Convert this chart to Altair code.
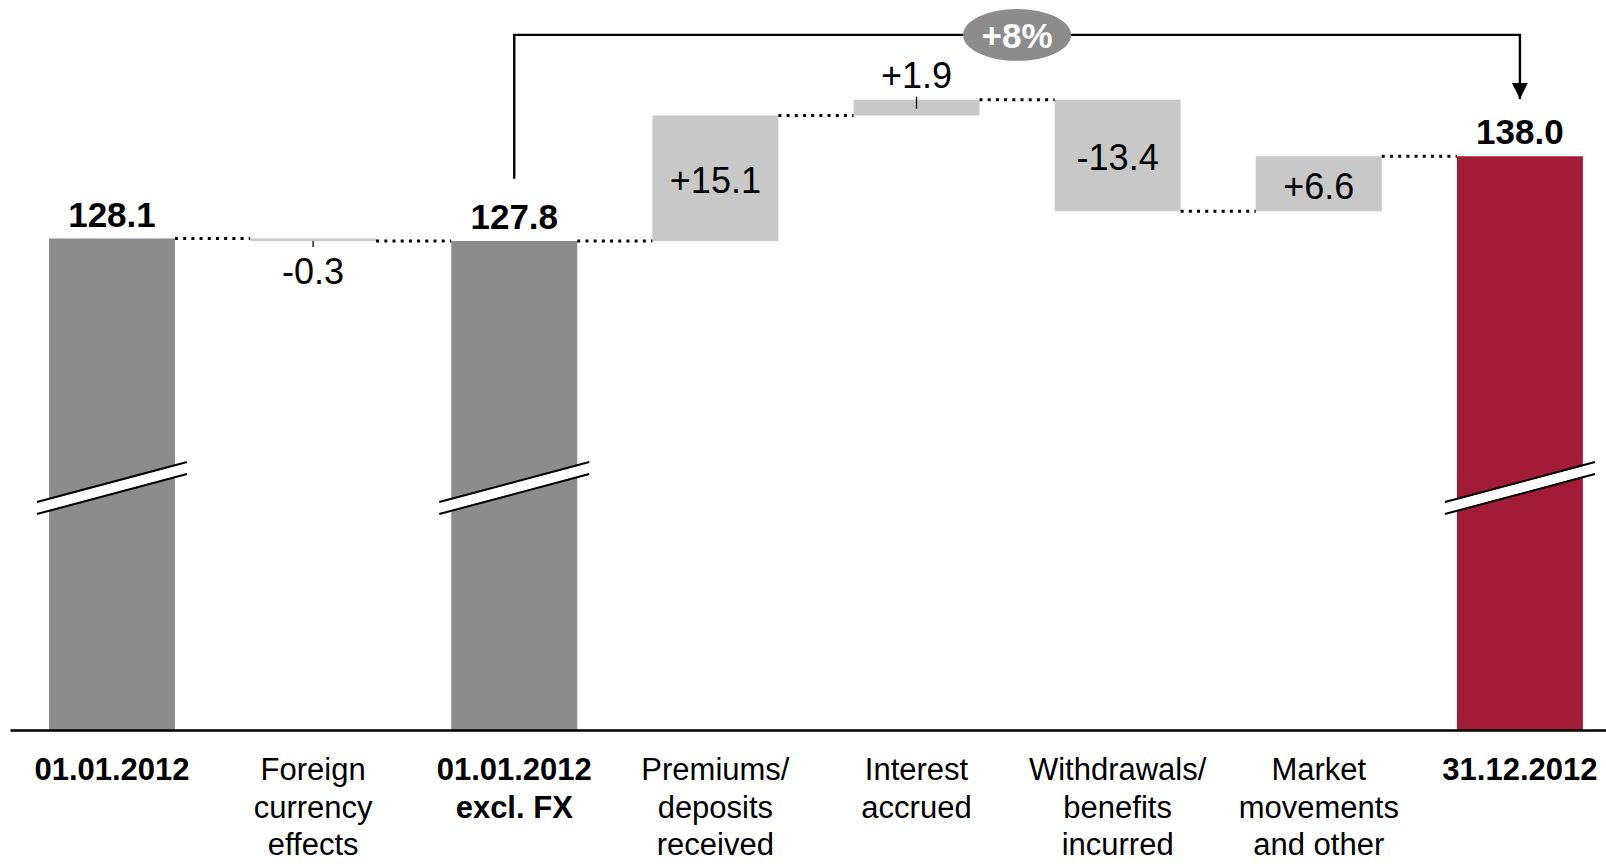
import altair as alt
import pandas as pd

# ---- data -------------------------------------------------------------
step_labels = [
    "01.01.2012",
    "Foreign\ncurrency\neffects",
    "01.01.2012\nexcl. FX",
    "Premiums/\ndeposits\nreceived",
    "Interest\naccrued",
    "Withdrawals/\nbenefits\nincurred",
    "Market\nmovements\nand other",
    "31.12.2012",
]
step_kinds = ["start", "delta", "start", "delta", "delta", "delta", "delta", "end"]
step_values = [128.1, -0.3, 127.8, 15.1, 1.9, -13.4, 6.6, 138.0]
label_places = ["above", "below", "above", "inside", "above", "inside", "inside", "above"]

# ---- layout constants (scale extents, bar geometry) -------------------
Y_MIN, Y_MAX = 69.0, 156.8          # value axis is cut: bars start at Y_MIN
X_LO, X_HI = -0.507, 7.428          # index axis extents
HALF_BAR = 0.3132                   # half bar width in index units
BREAK_LEVEL = 98.1                  # where the axis-break marks sit
BREAK_HALF = 0.373
BRACKET_LEVEL = 152.6               # height of the growth bracket
BRACKET_GAP_START = 7.5
BRACKET_GAP_END = 6.9

FONT = "Liberation Sans"
DARK, LIGHT, RED = "#8c8c8c", "#c8c8c8", "#a21c37"

# ---- waterfall geometry -----------------------------------------------
rows = []
running = None
for i, (lab, kind, val, place) in enumerate(zip(step_labels, step_kinds, step_values, label_places)):
    if kind == "delta":
        start = running
        end = round(start + val, 1)
        lo, hi = min(start, end), max(start, end)
        text = f"{val:+.1f}"
        running = end
    else:
        lo, hi = Y_MIN, val
        text = f"{val:.1f}"
        running = val
    rows.append(dict(i=i, label=lab, kind=kind, value=val, place=place,
                     lo=lo, hi=hi, mid=(lo + hi) / 2, level=running, text=text,
                     x0=i - HALF_BAR, x1=i + HALF_BAR,
                     total=kind != "delta"))
steps = pd.DataFrame(rows)

connectors = pd.DataFrame([
    dict(cx0=r.i + HALF_BAR, cx1=r.i + 1 - HALF_BAR, level=r.level)
    for r in steps.itertuples() if r.i < len(steps) - 1
])

breaks = steps[steps["total"]].assign(
    bx0=lambda d: d["i"] - BREAK_HALF, bx1=lambda d: d["i"] + BREAK_HALF, blev=BREAK_LEVEL
)

first_excl = step_values[2]
final = step_values[-1]
growth = f"{final / first_excl - 1:+.0%}"
bracket = pd.DataFrame({
    "bx": [2, 2, 7, 7],
    "by": [first_excl + BRACKET_GAP_START, BRACKET_LEVEL, BRACKET_LEVEL, final + BRACKET_GAP_END],
    "order": [0, 1, 2, 3],
})
arrow_tip = bracket.iloc[[3]]
badge = pd.DataFrame({"bx": [(2 + 7) / 2], "by": [BRACKET_LEVEL], "text": [growth]})

# ---- shared encodings ---------------------------------------------------
x_scale = alt.Scale(domain=[X_LO, X_HI], nice=False, zero=False)
y_scale = alt.Scale(domain=[Y_MIN, Y_MAX], nice=False, zero=False)
x_axis = alt.Axis(domain=True, domainColor="black", domainWidth=2.5, ticks=False,
                  labels=False, grid=False, title=None, zindex=1)


def X(field):
    return alt.X(f"{field}:Q", scale=x_scale, axis=x_axis)


def Y(field):
    return alt.Y(f"{field}:Q", scale=y_scale, axis=None)


base = alt.Chart(steps)

bars = base.mark_rect().encode(
    x=X("x0"), x2="x1", y=Y("lo"), y2="hi",
    color=alt.Color("kind:N", legend=None,
                    scale=alt.Scale(domain=["start", "delta", "end"], range=[DARK, LIGHT, RED])),
)

dotted = alt.Chart(connectors).mark_rule(
    color="black", strokeWidth=3, strokeDash=[3, 5.2]
).encode(x=X("cx0"), x2="cx1", y=Y("level"))

# axis-break marks across the total bars
break_gap = alt.Chart(breaks).mark_rule(color="white", strokeWidth=10, yOffset=20, y2Offset=-20).encode(
    x=X("bx0"), x2="bx1", y=Y("blev"), y2="blev")
break_upper = alt.Chart(breaks).mark_rule(color="black", strokeWidth=2, yOffset=14, y2Offset=-26).encode(
    x=X("bx0"), x2="bx1", y=Y("blev"), y2="blev")
break_lower = alt.Chart(breaks).mark_rule(color="black", strokeWidth=2, yOffset=26, y2Offset=-14).encode(
    x=X("bx0"), x2="bx1", y=Y("blev"), y2="blev")

# small leader ticks for labels placed outside thin delta bars
lead_above = base.transform_filter("datum.place == 'above' && !datum.total").mark_rule(
    color="black", strokeWidth=1.3, yOffset=-3, y2Offset=9
).encode(x=X("i"), y=Y("hi"), y2="hi")
lead_below = base.transform_filter("datum.place == 'below'").mark_rule(
    color="black", strokeWidth=1.3, yOffset=0, y2Offset=6
).encode(x=X("i"), y=Y("lo"), y2="lo")

total_labels = base.transform_filter("datum.total").mark_text(
    font=FONT, fontSize=35, fontWeight="bold", color="black", baseline="alphabetic", dy=-12
).encode(x=X("i"), y=Y("hi"), text="text:N")
delta_above = base.transform_filter("datum.place == 'above' && !datum.total").mark_text(
    font=FONT, fontSize=36, color="black", baseline="alphabetic", dy=-12
).encode(x=X("i"), y=Y("hi"), text="text:N")
delta_below = base.transform_filter("datum.place == 'below'").mark_text(
    font=FONT, fontSize=36, color="black", baseline="alphabetic", dy=43
).encode(x=X("i"), y=Y("lo"), text="text:N")
delta_inside = base.transform_filter("datum.place == 'inside'").mark_text(
    font=FONT, fontSize=36, color="black", baseline="middle", dy=4
).encode(x=X("i"), y=Y("mid"), text="text:N")

cat_bold = base.transform_filter("datum.total").mark_text(
    font=FONT, fontSize=31, fontWeight="bold", color="black", baseline="alphabetic",
    lineBreak="\n", lineHeight=37.5
).encode(x=X("i"), y=alt.value(780), text="label:N")
cat_plain = base.transform_filter("!datum.total").mark_text(
    font=FONT, fontSize=31, color="black", baseline="alphabetic",
    lineBreak="\n", lineHeight=37.5
).encode(x=X("i"), y=alt.value(780), text="label:N")

# growth bracket from the FX-adjusted start to the year-end value
bracket_line = alt.Chart(bracket).mark_line(color="black", strokeWidth=2.4).encode(
    x=X("bx"), y=Y("by"), order="order:Q")
arrow_head = alt.Chart(arrow_tip).mark_point(
    shape="M-1,-1L1,-1L0,1Z", size=256, filled=True, color="black", opacity=1, yOffset=-8
).encode(x=X("bx"), y=Y("by"))
badge_shape = alt.Chart(badge).mark_point(
    shape="M-1,0A1,0.48,0,1,1,1,0A1,0.48,0,1,1,-1,0Z", size=11664, filled=True,
    color=DARK, opacity=1
).encode(x=X("bx"), y=Y("by"))
badge_text = alt.Chart(badge).mark_text(
    font=FONT, fontSize=35, fontWeight="bold", color="white", baseline="middle", dy=2
).encode(x=X("bx"), y=Y("by"), text="text:N")

chart = alt.layer(
    bars, dotted, break_gap, break_upper, break_lower, lead_above, lead_below,
    total_labels, delta_above, delta_below, delta_inside, cat_bold, cat_plain,
    bracket_line, arrow_head, badge_shape, badge_text,
).properties(
    width=1596, height=730,
    padding={"left": 10, "top": 0, "right": 0, "bottom": 134},
    autosize="none",
    background="white",
).configure_view(stroke=None)

chart.save("out.html", embed_options={"renderer": "svg", "actions": False})
